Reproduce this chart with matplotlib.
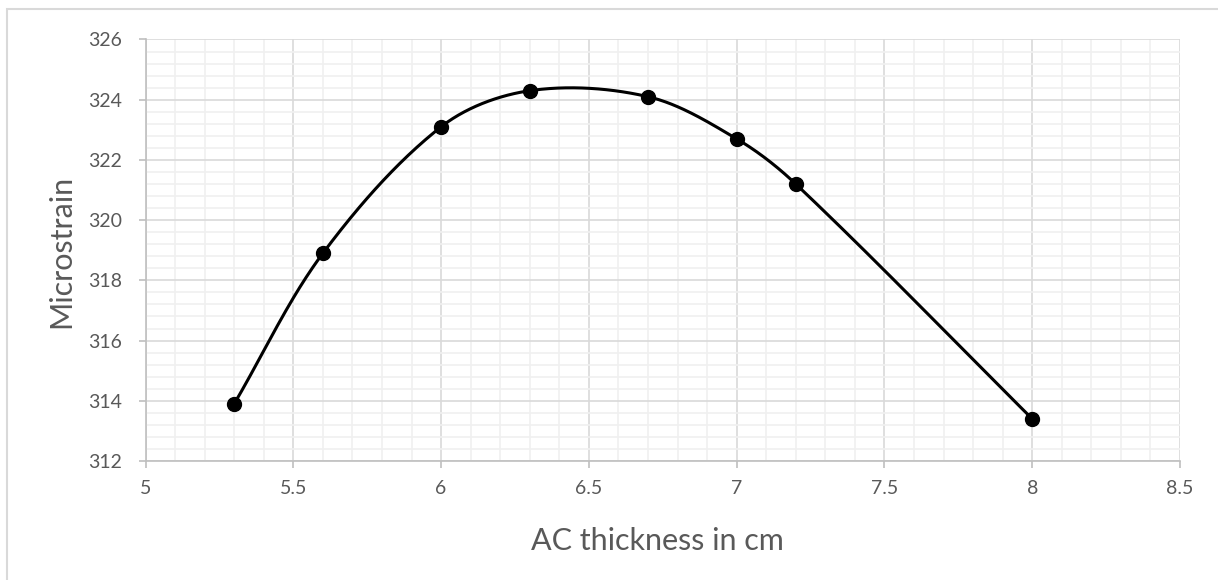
"""Microstrain against AC layer thickness, drawn as a smoothed scatter line."""

import numpy as np
import matplotlib.pyplot as plt
from matplotlib.patches import Rectangle
from matplotlib.ticker import MultipleLocator, FuncFormatter

thickness_cm = [5.3, 5.6, 6.0, 6.3, 6.7, 7.0, 7.2, 8.0]
microstrain = [313.9, 318.9, 323.1, 324.3, 324.1, 322.7, 321.2, 313.4]

TEXT_GREY = '#595959'
X_LIM = (5, 8.5)
Y_LIM = (312, 326)


def smooth_curve(x_points, y_points, x_scale, y_scale, samples=60):
    """Return a Bezier curve through the points, tangents weighted by the
    chord lengths measured in screen units so uneven spacing stays smooth."""
    pts = np.column_stack([np.asarray(x_points) * x_scale,
                           np.asarray(y_points) * y_scale])
    n = len(pts)
    chords = np.linalg.norm(np.diff(pts, axis=0), axis=1)
    tangents = np.zeros_like(pts)
    for i in range(n):
        lo, hi = max(i - 1, 0), min(i + 1, n - 1)
        span = sum(chords[lo:hi])
        tangents[i] = (pts[hi] - pts[lo]) / span
    t = np.linspace(0, 1, samples)[:, None]
    pieces = []
    for i in range(n - 1):
        p1, p2 = pts[i], pts[i + 1]
        c1 = p1 + tangents[i] * chords[i] / 3
        c2 = p2 - tangents[i + 1] * chords[i] / 3
        seg = ((1 - t)**3 * p1 + 3 * (1 - t)**2 * t * c1
               + 3 * (1 - t) * t**2 * c2 + t**3 * p2)
        pieces.append(seg)
    curve = np.vstack(pieces)
    return curve[:, 0] / x_scale, curve[:, 1] / y_scale


plt.rcParams['font.family'] = ['Lato', 'DejaVu Sans']

fig = plt.figure(figsize=(12.18, 5.8), dpi=100)
ax_rect = [0.1195, 0.2052, 0.8493, 0.7267]
ax = fig.add_axes(ax_rect)

# light border round the chart area
fig.patches.append(Rectangle((0.0057, -0.05), 1.1, 0.0345 + 1.0,
                             transform=fig.transFigure, fill=False,
                             edgecolor='#d9d9d9', linewidth=1.5))

ax.set_xlim(*X_LIM)
ax.set_ylim(*Y_LIM)
ax.xaxis.set_major_locator(MultipleLocator(0.5))
ax.xaxis.set_minor_locator(MultipleLocator(0.1))
ax.yaxis.set_major_locator(MultipleLocator(2))
ax.yaxis.set_minor_locator(MultipleLocator(0.4))
ax.xaxis.set_major_formatter(FuncFormatter(lambda v, _: f'{v:g}'))

ax.grid(which='major', color='#d9d9d9', linewidth=1.2)
ax.grid(which='minor', color='#f0f0f0', linewidth=1.2)
ax.set_axisbelow(True)

for side in ['top', 'right']:
    ax.spines[side].set_visible(False)
for side in ['left', 'bottom']:
    ax.spines[side].set_color('#bfbfbf')
    ax.spines[side].set_linewidth(1.2)

ax.tick_params(which='major', direction='out', length=5, width=1.2,
               color='#bfbfbf', labelsize=14, labelcolor=TEXT_GREY)
ax.tick_params(axis='x', which='major', pad=9)
ax.tick_params(axis='y', which='major', pad=12)
ax.tick_params(which='minor', length=0)

# screen units per data unit, so the smoothing follows the drawn shape
px_per_x = 1218 * ax_rect[2] / (X_LIM[1] - X_LIM[0])
px_per_y = 580 * ax_rect[3] / (Y_LIM[1] - Y_LIM[0])
curve_x, curve_y = smooth_curve(thickness_cm, microstrain, px_per_x, px_per_y)
ax.plot(curve_x, curve_y, color='black', linewidth=2.2, solid_capstyle='round')
ax.plot(thickness_cm, microstrain, linestyle='none', marker='o',
        markersize=10, color='black')

ax.set_xlabel('AC thickness in cm', fontsize=22, color=TEXT_GREY,
              va='baseline')
ax.xaxis.set_label_coords(0.4944, -0.212)
ax.set_ylabel('Microstrain', fontsize=22, color=TEXT_GREY,
              va='center', ha='center', rotation_mode='anchor')
ax.yaxis.set_label_coords(-0.0818, 0.498)

plt.savefig('out.png', dpi=100)
